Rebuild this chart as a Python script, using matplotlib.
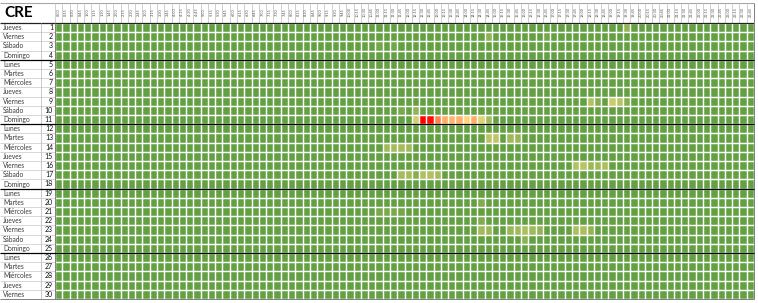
import numpy as np
import matplotlib.pyplot as plt
from matplotlib.colors import LinearSegmentedColormap

plt.rcParams['font.family'] = ['Lato', 'DejaVu Sans']

# --- data -------------------------------------------------------------
title = 'CRE'
days = list(range(1, 31))
weekdays = ['Jueves', 'Viernes', 'Sábado', 'Domingo', 'Lunes', 'Martes', 'Miércoles',
            'Jueves', 'Viernes', 'Sábado', 'Domingo', 'Lunes', 'Martes', 'Miércoles',
            'Jueves', 'Viernes', 'Sábado', 'Domingo', 'Lunes', 'Martes', 'Miércoles',
            'Jueves', 'Viernes', 'Sábado', 'Domingo', 'Lunes', 'Martes', 'Miércoles',
            'Jueves', 'Viernes']
slots = [f'{h}:{m:02d}' for h in range(24) for m in (0, 15, 30, 45)]

# cells that stand out from the base level (day, slot index, value 0-100)
hot_days = [11, 11, 11, 11, 11, 11, 11, 11, 11, 11, 11,
            10, 10,
            13, 13, 13, 13,
            14, 14, 14, 14,
            17, 17, 17, 17, 17, 17,
            9, 9, 9, 9, 9,
            1, 2, 2, 3, 3,
            16, 16, 16, 16, 16,
            20, 21, 21, 21, 21, 22,
            23, 23, 23, 23, 23, 23, 23, 23, 23, 23,
            24]
hot_slots = [49, 50, 51, 52, 53, 54, 55, 56, 57, 58, 59,
             47, 49,
             59, 60, 62, 63,
             45, 46, 47, 48,
             47, 48, 49, 50, 51, 52,
             73, 74, 76, 77, 78,
             78, 59, 67, 44, 46,
             71, 72, 73, 74, 75,
             58, 44, 45, 46, 47, 58,
             58, 59, 62, 63, 64, 65, 66, 71, 72, 73,
             64]
hot_vals = [36, 100, 97, 70, 61, 59, 60, 52, 61, 40, 21,
            8, 16,
            28, 30, 20, 18,
            20, 22, 22, 20,
            22, 22, 12, 25, 26, 22,
            26, 12, 34, 28, 12,
            16, 14, 6, 6, 6,
            26, 28, 18, 20, 24,
            10, 8, 8, 8, 6, 10,
            20, 18, 18, 20, 24, 20, 16, 24, 24, 16,
            14]

values = np.zeros((len(days), len(slots)))
for d, s, v in zip(hot_days, hot_slots, hot_vals):
    values[d - 1, s] = v

# --- layout (pixels of a 758x303 canvas) ------------------------------
W, H = 758, 303
gx0, gx1 = 55, 754
gy0, gy1 = 23, 299
row_h = (gy1 - gy0) / len(days)
col_w = (gx1 - gx0) / len(slots)

fig = plt.figure(figsize=(W / 100, H / 100), dpi=100)

axh = fig.add_axes([gx0 / W, (H - gy1) / H, (gx1 - gx0) / W, (gy1 - gy0) / H])
cmap = LinearSegmentedColormap.from_list('gyr', ['#62a042', '#ffdf80', '#ff0000'])
axh.imshow(values, cmap=cmap, vmin=0, vmax=100, aspect='auto',
           interpolation='nearest', extent=(0, len(slots), len(days), 0))
# white cell borders
axh.vlines(np.arange(len(slots) + 1), 0, len(days), color='white', lw=1.05)
axh.hlines(np.arange(len(days) + 1), 0, len(slots), color='white', lw=1.05)
axh.set_xlim(0, len(slots))
axh.set_ylim(len(days), 0)
axh.axis('off')

ax = fig.add_axes([0, 0, 1, 1], zorder=2)
ax.set_xlim(0, W)
ax.set_ylim(H, 0)
ax.axis('off')

# header
ax.text(4, 13, title, fontsize=11, fontweight='bold', ha='left', va='center')
ax.hlines(2.5, 0, gx1, color='#a6a6a6', lw=0.8)
for j, lab in enumerate(slots):
    ax.text(gx0 + (j + 0.5) * col_w, 12, lab, rotation=90, fontsize=2.8,
            ha='center', va='center', color='#555555')
ax.vlines([gx0 + j * col_w for j in range(len(slots) + 1)], 2.5, gy0,
          color='#c8c8c8', lw=0.6)
ax.hlines(gy0, 0, gx1, color='#222222', lw=0.9)

# left table
for i, (wd, d) in enumerate(zip(weekdays, days)):
    yc = gy0 + (i + 0.5) * row_h
    ax.text(3, yc, wd, fontsize=4.8, ha='left', va='center', color='#3a3a3a')
    ax.text(53, yc, str(d), fontsize=5, ha='right', va='center', color='#111111')
ax.hlines([gy0 + i * row_h for i in range(1, len(days))], 0, gx0, color='#d0d0d0', lw=0.6)
ax.vlines(41, gy0, gy1, color='#c0c0c0', lw=0.6)
ax.vlines(gx0, gy0, gy1, color='#808080', lw=0.7)
ax.hlines(gy1, 0, gx1, color='#808080', lw=0.7)
ax.vlines(gx1, 2.5, gy1, color='#808080', lw=0.7)

# week separators (after each Sunday)
for i, wd in enumerate(weekdays[:-1]):
    if wd == 'Domingo':
        ax.hlines(gy0 + (i + 1) * row_h, 0, gx1, color='black', lw=0.9)

fig.savefig('out.png', dpi=100)
